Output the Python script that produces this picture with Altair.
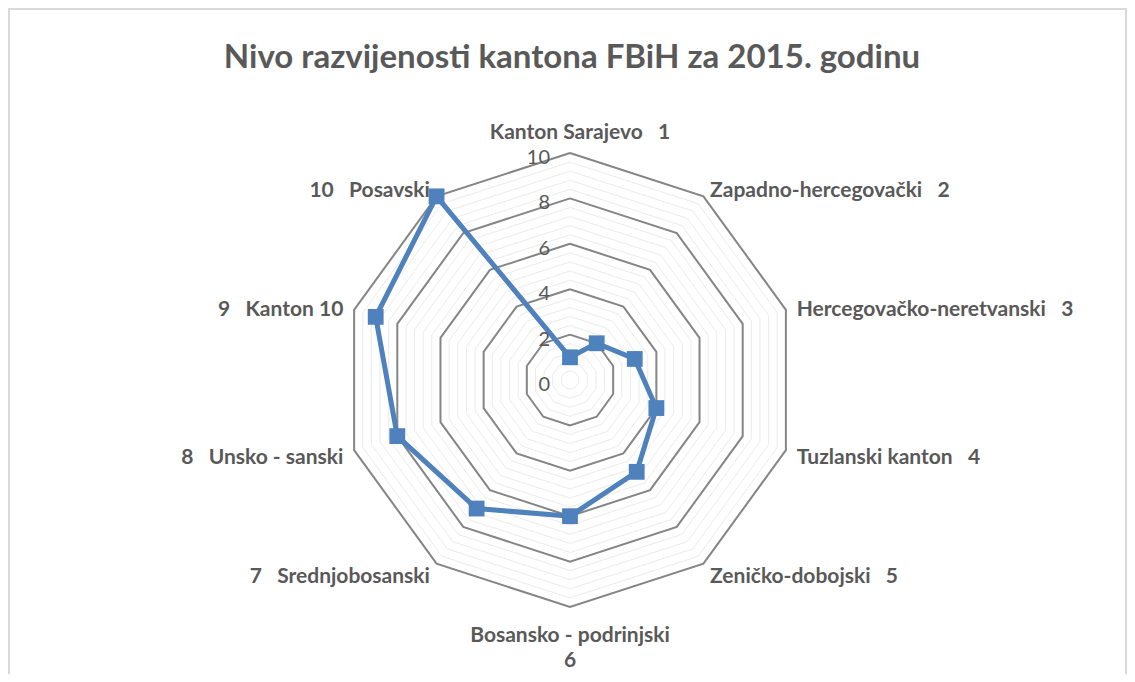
import math
import altair as alt
import pandas as pd

# ---------------- data ----------------
categories = [
    "Kanton Sarajevo", "Zapadno-hercegovački", "Hercegovačko-neretvanski",
    "Tuzlanski kanton", "Zeničko-dobojski", "Bosansko - podrinjski",
    "Srednjobosanski", "Unsko - sanski", "Kanton 10", "Posavski",
]
ranks = ["1", "2", "3", "4", "5", "6", "7", "8", "9", "10"]
values = [1, 2, 3, 4, 5, 6, 7, 8, 9, 10]
tick_values = [0, 2, 4, 6, 8, 10]
major_levels = [2, 4, 6, 8, 10]
minor_levels = [0.4, 0.8, 1.2, 1.6, 2.4, 2.8, 3.2, 3.6, 4.4, 4.8, 5.2, 5.6,
                6.4, 6.8, 7.2, 7.6, 8.4, 8.8, 9.2, 9.6]
title_text = "Nivo razvijenosti kantona FBiH za 2015. godinu"

N = len(categories)

# ---------------- layout ----------------
W, H = 1119, 666
CX, CY = 562, 372          # centre of the radar inside plot area (px)
PPU = 22.7                 # pixels per unit
FONT = "Lato"
LABEL_R = 10.5
GAP = "\u00a0\u00a0\u00a0"

xdom = [-CX / PPU, (W - CX) / PPU]
ydom = [-(H - CY) / PPU, CY / PPU]
xs = alt.Scale(domain=xdom, nice=False, zero=False)
ys = alt.Scale(domain=ydom, nice=False, zero=False)

ang = f"2*PI*datum.i/{N}"

# grid polygons
grid_rows = []
for kind, levels in (("minor", minor_levels), ("major", major_levels)):
    for lv in levels:
        for i in range(N + 1):
            grid_rows.append({"kind": kind, "level": lv, "i": i % N, "ord": i})
grid_df = pd.DataFrame(grid_rows)

def grid_layer(kind, color, width):
    return alt.Chart(grid_df).transform_filter(
        alt.datum.kind == kind
    ).transform_calculate(
        x=f"datum.level*sin({ang})", y=f"datum.level*cos({ang})"
    ).mark_line(color=color, strokeWidth=width, clip=False).encode(
        x=alt.X("x:Q", scale=xs, axis=None),
        y=alt.Y("y:Q", scale=ys, axis=None),
        detail="level:N",
        order="ord:Q",
    )

minor = grid_layer("minor", "#ebebeb", 1)
major = grid_layer("major", "#858585", 2)

# series
series_rows = [{"i": i % N, "ord": i, "v": values[i % N]} for i in range(N + 1)]
series_df = pd.DataFrame(series_rows)
series_base = alt.Chart(series_df).transform_calculate(
    x=f"datum.v*sin({ang})", y=f"datum.v*cos({ang})"
)
line = series_base.mark_line(color="#4F81BD", strokeWidth=5).encode(
    x=alt.X("x:Q", scale=xs, axis=None),
    y=alt.Y("y:Q", scale=ys, axis=None),
    order="ord:Q",
)
pts = series_base.transform_filter(alt.datum.ord < N).mark_point(
    shape="square", filled=True, size=250, color="#4F81BD", opacity=1
).encode(
    x=alt.X("x:Q", scale=xs, axis=None),
    y=alt.Y("y:Q", scale=ys, axis=None),
)

# axis tick labels
tick_df = pd.DataFrame({"t": tick_values})
ticks = alt.Chart(tick_df).mark_text(
    align="right", baseline="middle", dx=-20, dy=5, font=FONT, fontSize=20,
    color="#595959"
).encode(
    x=alt.X("zero:Q", scale=xs, axis=None),
    y=alt.Y("t:Q", scale=ys, axis=None),
    text="t:Q",
).transform_calculate(zero="0")

# category labels
lab_rows = []
for i, (c, r) in enumerate(zip(categories, ranks)):
    if i == 0:
        side, txt = "top", c + GAP + r
    elif i == N // 2:
        side, txt = "bottom", c + "\n" + r
    elif i < N // 2:
        side, txt = "right", c + GAP + r
    else:
        side, txt = "left", r + GAP + c
    lab_rows.append({"i": i, "side": side, "txt": txt})
lab_df = pd.DataFrame(lab_rows)

def label_layer(side, align, baseline, dy, dx=0):
    return alt.Chart(lab_df).transform_filter(
        alt.datum.side == side
    ).transform_calculate(
        x=f"{LABEL_R}*sin({ang})", y=f"{LABEL_R}*cos({ang})"
    ).mark_text(
        align=align, baseline=baseline, dy=dy, dx=dx, font=FONT, fontSize=21,
        fontWeight="bold", color="#595959", lineBreak="\n", lineHeight=25
    ).encode(
        x=alt.X("x:Q", scale=xs, axis=None),
        y=alt.Y("y:Q", scale=ys, axis=None),
        text="txt:N",
    )

labels = [
    label_layer("top", "center", "middle", -9, 10),
    label_layer("bottom", "center", "top", 7),
    label_layer("right", "left", "middle", 4),
    label_layer("left", "right", "middle", 4),
]

# title
title_df = pd.DataFrame({"t": [title_text]})
title = alt.Chart(title_df).mark_text(
    font=FONT, fontSize=33, fontWeight="bold", color="#595959",
    align="center", baseline="middle"
).encode(x=alt.value(564), y=alt.value(50), text="t:N")

# frame (left, right, top)
frame_df = pd.DataFrame({"k": [0]})
frame_left = alt.Chart(frame_df).mark_rule(color="#d9d9d9", strokeWidth=2).encode(
    x=alt.value(1), y=alt.value(0), y2=alt.value(H))
frame_right = alt.Chart(frame_df).mark_rule(color="#d9d9d9", strokeWidth=2).encode(
    x=alt.value(W - 1), y=alt.value(0), y2=alt.value(H))
frame_top = alt.Chart(frame_df).mark_rule(color="#d9d9d9", strokeWidth=2).encode(
    x=alt.value(0), x2=alt.value(W), y=alt.value(1))

chart = alt.layer(
    frame_left, frame_right, frame_top,
    minor, major, line, pts, ticks, *labels, title
).properties(
    width=W, height=H,
    autosize=alt.AutoSizeParams(type="none"),
    padding=0,
).configure_view(stroke=None).configure(background="white")

chart.save("out.html", embed_options={"renderer": "svg", "actions": False})
